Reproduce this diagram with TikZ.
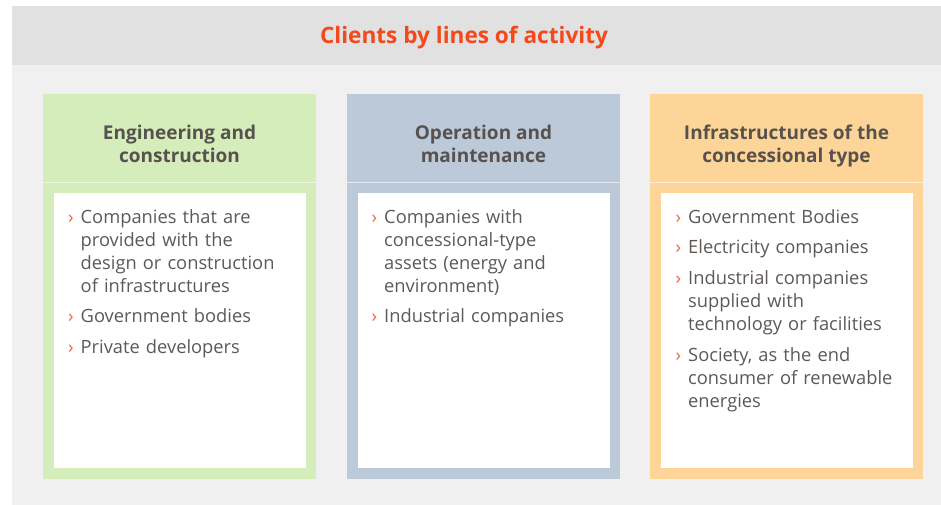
\documentclass[tikz,border=0pt]{standalone}
\usepackage{fontspec}
\setmainfont{Open Sans}
\usetikzlibrary{positioning}
\definecolor{bandgray}{HTML}{E1E1E1}
\definecolor{backgray}{HTML}{F0F0F0}
\definecolor{colgreen}{HTML}{D5ECBB}
\definecolor{colblue}{HTML}{BCC9D8}
\definecolor{colorange}{HTML}{FED598}
\definecolor{titlered}{HTML}{F4491C}
\definecolor{bulletred}{HTML}{F26440}
\definecolor{bodytext}{HTML}{5E5955}
\definecolor{headtext}{HTML}{57524E}
\tikzset{
  headline/.style={font=\bfseries\fontsize{19}{23}\selectfont, text=headtext, align=center, inner sep=0pt},
  clientlist/.style={font=\fontsize{18.3}{23}\selectfont, text=bodytext, text width=232pt, align=left, inner sep=0pt, anchor=base west},
}
\newcommand{\blt}{\leavevmode\llap{\textcolor{bulletred}{›}\hspace{7pt}}}
\begin{document}
\begin{tikzpicture}[x=1pt,y=-1pt]
\useasboundingbox (0,0) rectangle (941,505);
% background and title band
\fill[backgray] (12,6) rectangle (941,505);
\fill[bandgray] (12,6) rectangle (941,65);
\node[font=\bfseries\fontsize{22.6}{26}\selectfont, text=titlered, anchor=base] (title) at (464,44) {Clients by lines of activity};
% the three columns
\foreach \x/\c in {43/colgreen, 347/colblue, 650/colorange} {
  \fill[\c] (\x,94.5) rectangle ++(273,384);
  \draw[\c!40!white, line width=0.8pt] (\x,182.3) -- ++(273,0);
  \fill[white] (\x+10.5,193.3) rectangle (\x+262.5,468);
}
% headings
\node[headline] (enghead) at (179.5,146.5) {\strut Engineering and\\\strut construction};
\node[headline] (opehead) at (483.5,146.5) {\strut Operation and\\\strut maintenance};
\node[headline] (infhead) at (786.5,146.5) {\strut Infrastructures of the\\\strut concessional type};
% lists
\node[clientlist] (englist) at (80.5,223) {\blt Companies that are\\provided with the\\design or construction\\of infrastructures\par\vspace{7.8pt}
\blt Government bodies\par\vspace{7.8pt}
\blt Private developers};
\node[clientlist] (opelist) at (384,223) {\blt Companies with\\concessional-type\\assets (energy and\\environment)\par\vspace{7.8pt}
\blt Industrial companies};
\node[clientlist] (inflist) at (688,223) {\blt Government Bodies\par\vspace{7.8pt}
\blt Electricity companies\par\vspace{7.8pt}
\blt Industrial companies\\supplied with\\technology or facilities\par\vspace{7.8pt}
\blt Society, as the end\\consumer of renewable\\energies};
\end{tikzpicture}
\end{document}
